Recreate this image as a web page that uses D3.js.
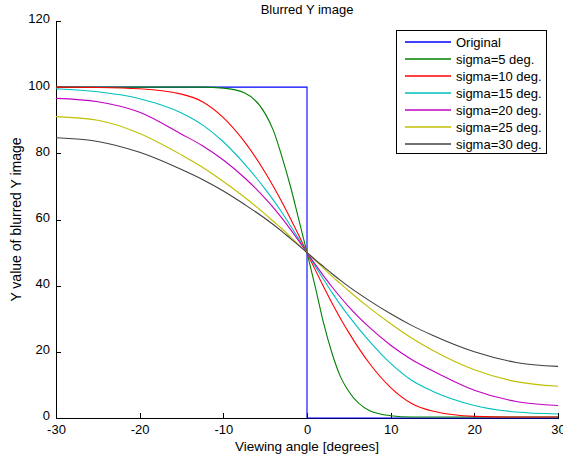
<!DOCTYPE html>
<html>
<head>
<meta charset="utf-8">
<script src="https://cdn.jsdelivr.net/npm/d3@7"></script>
<style>
  html, body { margin: 0; padding: 0; background: #fff; }
  svg { display: block; font-family: "Liberation Sans", Arial, sans-serif; }
</style>
</head>
<body>
<svg id="chart" width="563" height="461"></svg>
<script>
// Sample angles (degrees) shared by the blurred curves
const angles = [-30, -25, -20, -15, -12.5, -10, -7.5, -5, -4, -3, -2, -1, 0, 1, 2, 3, 4, 5, 7.5, 10, 12.5, 15, 20, 25, 30];

// Unblurred step: 100 left of 0, 0 right of 0
const originalX = [-30, 0, 0, 30];
const originalY = [100, 100, 0, 0];

// Blurred Y values at each angle
const sigma5  = [100, 100, 100, 100, 100, 99.7, 98.3, 92.0, 86.8, 79.0, 70.2, 60.2, 50, 39.5, 28.5, 19.5, 12.5, 8.0, 2.2, 0.7, 0.3, 0.3, 0.3, 0.3, 0.3];
const sigma10 = [100, 99.9, 99.5, 97.9, 95.6, 90.8, 83.6, 74.2, 69.9, 65.3, 60.4, 55.3, 50, 44.7, 39.6, 34.7, 30.1, 25.8, 16.4, 9.2, 4.4, 2.1, 0.5, 0.3, 0.3];
const sigma15 = [99.5, 98.6, 96.5, 92.2, 88.6, 83.5, 76.9, 69.2, 65.8, 62.1, 58.2, 54.2, 50, 45.8, 41.8, 37.9, 34.2, 30.8, 23.1, 16.5, 11.4, 8.1, 3.8, 1.8, 1.2];
const sigma20 = [96.6, 95.6, 92.4, 85.8, 82.3, 78.0, 72.7, 66.4, 63.5, 60.4, 57.1, 53.6, 50, 46.4, 42.9, 39.6, 36.5, 33.6, 27.3, 22.0, 17.7, 14.3, 8.4, 5.0, 3.8];
const sigma25 = [91.1, 90.0, 86.0, 79.5, 75.8, 71.5, 66.8, 61.6, 59.4, 57.2, 54.8, 52.4, 50, 47.6, 45.2, 42.8, 40.6, 38.4, 33.2, 28.5, 24.2, 20.5, 14.6, 11.0, 9.6];
const sigma30 = [84.7, 83.6, 80.3, 75.1, 72.1, 68.6, 64.6, 60.3, 58.4, 56.4, 54.3, 52.2, 50, 47.8, 45.7, 43.6, 41.6, 39.7, 35.4, 31.5, 28.0, 25.0, 20.0, 16.8, 15.6];

const seriesNames = ["Original", "sigma=5 deg.", "sigma=10 deg.", "sigma=15 deg.", "sigma=20 deg.", "sigma=25 deg.", "sigma=30 deg."];
const seriesColors = ["#0000ff", "#008000", "#ff0000", "#00bfbf", "#bf00bf", "#bfbf00", "#404040"];

const xTicks = [-30, -20, -10, 0, 10, 20, 30];
const yTicks = [0, 20, 40, 60, 80, 100, 120];

const svg = d3.select("#chart");
const plot = { left: 56, right: 558, top: 21, bottom: 418 };

const x = d3.scaleLinear().domain([-30, 30]).range([plot.left, plot.right]);
const y = d3.scaleLinear().domain([0, 120]).range([plot.bottom, plot.top]);

// Point lists for each series
const blurred = [sigma5, sigma10, sigma15, sigma20, sigma25, sigma30];
const series = [
  { pts: originalX.map((v, i) => [v, originalY[i]]), curve: d3.curveLinear }
].concat(blurred.map(vals => ({ pts: angles.map((a, i) => [a, vals[i]]), curve: d3.curveMonotoneX })));

// Axes with inward ticks
const fmt = d => String(d);
const xAxis = svg.append("g")
  .attr("transform", `translate(0,${plot.bottom})`)
  .call(d3.axisBottom(x).tickValues(xTicks).tickFormat(fmt).tickSizeInner(-5).tickSizeOuter(0).tickPadding(7));
const yAxis = svg.append("g")
  .attr("transform", `translate(${plot.left},0)`)
  .call(d3.axisLeft(y).tickValues(yTicks).tickFormat(fmt).tickSizeInner(-5).tickSizeOuter(0).tickPadding(6));
yAxis.selectAll("text").attr("dy", "0.15em");

[xAxis, yAxis].forEach(g => {
  g.selectAll("text").attr("font-size", 13).attr("fill", "#000")
    .attr("font-family", "'Liberation Sans', Arial, sans-serif");
  g.selectAll(".tick line, .domain").attr("stroke", "#000").attr("shape-rendering", "crispEdges");
});

// Curves, drawn in series order
const lineGen = d3.line().x(d => x(d[0])).y(d => y(d[1]));
const curves = svg.append("g").attr("class", "curves");
series.forEach((s, i) => {
  curves.append("path")
    .attr("d", lineGen.curve(s.curve)(s.pts))
    .attr("fill", "none")
    .style("stroke", seriesColors[i])
    .style("stroke-width", 1.1);
});

// Title and axis labels
svg.append("text")
  .attr("x", (plot.left + plot.right) / 2).attr("y", 14)
  .attr("text-anchor", "middle").attr("font-size", 13)
  .text("Blurred Y image");

svg.append("text")
  .attr("x", (plot.left + plot.right) / 2).attr("y", 451)
  .attr("text-anchor", "middle").attr("font-size", 13.5)
  .text("Viewing angle [degrees]");

svg.append("text")
  .attr("transform", `translate(21,${(plot.top + plot.bottom) / 2}) rotate(-90)`)
  .attr("text-anchor", "middle").attr("font-size", 14)
  .text("Y value of blurred Y image");

// Legend
const legend = svg.append("g").attr("class", "legend");
legend.append("rect")
  .attr("x", 396.5).attr("y", 30.5).attr("width", 150).attr("height", 123)
  .attr("fill", "#fff").attr("stroke", "#000").attr("stroke-width", 1);
seriesNames.forEach((name, i) => {
  const ly = 42 + i * 17;
  legend.append("path")
    .attr("d", d3.line()([[405, ly], [451, ly]]))
    .attr("fill", "none")
    .style("stroke", seriesColors[i])
    .style("stroke-width", 1.3);
  legend.append("text")
    .attr("x", 456).attr("y", ly + 4.5)
    .attr("font-size", 13)
    .text(name);
});
</script>
</body>
</html>
